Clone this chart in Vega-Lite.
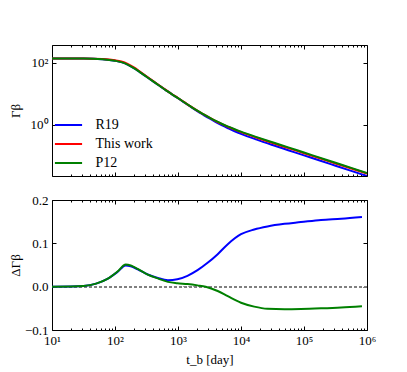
{
  "$schema": "https://vega.github.io/schema/vega-lite/v6.json",
  "padding": {"left": 8, "top": 44, "right": 5, "bottom": 5},
  "spacing": 16,
  "datasets": {
    "top": [
      {"t": 10, "s": "R19", "v": 139.6}, {"t": 31.62, "s": "R19", "v": 138.8}, {"t": 63.1, "s": "R19", "v": 131.8}, {"t": 100, "s": "R19", "v": 118.0}, {"t": 125.9, "s": "R19", "v": 106.5}, {"t": 158.5, "s": "R19", "v": 88.8}, {"t": 199.5, "s": "R19", "v": 68.4}, {"t": 251.2, "s": "R19", "v": 50.0}, {"t": 316.2, "s": "R19", "v": 36.07}, {"t": 398.1, "s": "R19", "v": 25.99}, {"t": 501.2, "s": "R19", "v": 18.69}, {"t": 631, "s": "R19", "v": 13.58}, {"t": 794.3, "s": "R19", "v": 9.85}, {"t": 1000, "s": "R19", "v": 7.28}, {"t": 1259, "s": "R19", "v": 5.31}, {"t": 1585, "s": "R19", "v": 3.865}, {"t": 1995, "s": "R19", "v": 2.841}, {"t": 2512, "s": "R19", "v": 2.134}, {"t": 3162, "s": "R19", "v": 1.617}, {"t": 3981, "s": "R19", "v": 1.239}, {"t": 5012, "s": "R19", "v": 0.969}, {"t": 6310, "s": "R19", "v": 0.777}, {"t": 7943, "s": "R19", "v": 0.629}, {"t": 10000, "s": "R19", "v": 0.518}, {"t": 17783, "s": "R19", "v": 0.337}, {"t": 31623, "s": "R19", "v": 0.226}, {"t": 56234, "s": "R19", "v": 0.1537}, {"t": 100000, "s": "R19", "v": 0.1046}, {"t": 177828, "s": "R19", "v": 0.0711}, {"t": 316228, "s": "R19", "v": 0.0485}, {"t": 562341, "s": "R19", "v": 0.0331}, {"t": 1000000, "s": "R19", "v": 0.0226},
      {"t": 10, "s": "This work", "v": 139.6}, {"t": 31.62, "s": "This work", "v": 139.0}, {"t": 63.1, "s": "This work", "v": 133.4}, {"t": 100, "s": "This work", "v": 121.6}, {"t": 125.9, "s": "This work", "v": 110.9}, {"t": 158.5, "s": "This work", "v": 93.3}, {"t": 199.5, "s": "This work", "v": 71.6}, {"t": 251.2, "s": "This work", "v": 51.9}, {"t": 316.2, "s": "This work", "v": 37.15}, {"t": 398.1, "s": "This work", "v": 26.6}, {"t": 501.2, "s": "This work", "v": 19.05}, {"t": 631, "s": "This work", "v": 13.8}, {"t": 794.3, "s": "This work", "v": 10.0}, {"t": 1000, "s": "This work", "v": 7.41}, {"t": 1259, "s": "This work", "v": 5.43}, {"t": 1585, "s": "This work", "v": 3.98}, {"t": 1995, "s": "This work", "v": 2.95}, {"t": 2512, "s": "This work", "v": 2.239}, {"t": 3162, "s": "This work", "v": 1.718}, {"t": 3981, "s": "This work", "v": 1.334}, {"t": 5012, "s": "This work", "v": 1.059}, {"t": 6310, "s": "This work", "v": 0.861}, {"t": 7943, "s": "This work", "v": 0.708}, {"t": 10000, "s": "This work", "v": 0.589}, {"t": 17783, "s": "This work", "v": 0.389}, {"t": 31623, "s": "This work", "v": 0.263}, {"t": 56234, "s": "This work", "v": 0.18}, {"t": 100000, "s": "This work", "v": 0.123}, {"t": 177828, "s": "This work", "v": 0.0841}, {"t": 316228, "s": "This work", "v": 0.0575}, {"t": 562341, "s": "This work", "v": 0.0394}, {"t": 1000000, "s": "This work", "v": 0.0269},
      {"t": 10, "s": "P12", "v": 139.6}, {"t": 31.62, "s": "P12", "v": 138.8}, {"t": 63.1, "s": "P12", "v": 131.8}, {"t": 100, "s": "P12", "v": 118.0}, {"t": 125.9, "s": "P12", "v": 106.5}, {"t": 158.5, "s": "P12", "v": 88.8}, {"t": 199.5, "s": "P12", "v": 68.4}, {"t": 251.2, "s": "P12", "v": 50.0}, {"t": 316.2, "s": "P12", "v": 36.07}, {"t": 398.1, "s": "P12", "v": 25.99}, {"t": 501.2, "s": "P12", "v": 18.71}, {"t": 631, "s": "P12", "v": 13.62}, {"t": 794.3, "s": "P12", "v": 9.9}, {"t": 1000, "s": "P12", "v": 7.35}, {"t": 1259, "s": "P12", "v": 5.39}, {"t": 1585, "s": "P12", "v": 3.96}, {"t": 1995, "s": "P12", "v": 2.941}, {"t": 2512, "s": "P12", "v": 2.237}, {"t": 3162, "s": "P12", "v": 1.723}, {"t": 3981, "s": "P12", "v": 1.346}, {"t": 5012, "s": "P12", "v": 1.076}, {"t": 6310, "s": "P12", "v": 0.882}, {"t": 7943, "s": "P12", "v": 0.73}, {"t": 10000, "s": "P12", "v": 0.611}, {"t": 17783, "s": "P12", "v": 0.407}, {"t": 31623, "s": "P12", "v": 0.2767}, {"t": 56234, "s": "P12", "v": 0.1894}, {"t": 100000, "s": "P12", "v": 0.1293}, {"t": 177828, "s": "P12", "v": 0.0883}, {"t": 316228, "s": "P12", "v": 0.0603}, {"t": 562341, "s": "P12", "v": 0.0412}, {"t": 1000000, "s": "P12", "v": 0.0281}
    ],
    "diff": [
      {"t": 10, "s": "R19", "d": 0}, {"t": 19.95, "s": "R19", "d": 0.0003}, {"t": 31.62, "s": "R19", "d": 0.0015}, {"t": 50.12, "s": "R19", "d": 0.007}, {"t": 75.86, "s": "R19", "d": 0.018}, {"t": 109.6, "s": "R19", "d": 0.034}, {"t": 147.9, "s": "R19", "d": 0.049}, {"t": 177.8, "s": "R19", "d": 0.047}, {"t": 229.1, "s": "R19", "d": 0.04}, {"t": 331.1, "s": "R19", "d": 0.028}, {"t": 478.6, "s": "R19", "d": 0.02}, {"t": 691.8, "s": "R19", "d": 0.015}, {"t": 977.2, "s": "R19", "d": 0.017}, {"t": 1413, "s": "R19", "d": 0.025}, {"t": 2042, "s": "R19", "d": 0.038}, {"t": 2951, "s": "R19", "d": 0.055}, {"t": 4266, "s": "R19", "d": 0.075}, {"t": 6166, "s": "R19", "d": 0.098}, {"t": 10000, "s": "R19", "d": 0.121}, {"t": 16218, "s": "R19", "d": 0.132}, {"t": 26303, "s": "R19", "d": 0.139}, {"t": 48978, "s": "R19", "d": 0.145}, {"t": 89125, "s": "R19", "d": 0.149}, {"t": 186209, "s": "R19", "d": 0.154}, {"t": 389045, "s": "R19", "d": 0.157}, {"t": 831764, "s": "R19", "d": 0.161},
      {"t": 10, "s": "P12", "d": 0}, {"t": 19.95, "s": "P12", "d": 0.0003}, {"t": 31.62, "s": "P12", "d": 0.0015}, {"t": 50.12, "s": "P12", "d": 0.007}, {"t": 75.86, "s": "P12", "d": 0.018}, {"t": 109.6, "s": "P12", "d": 0.035}, {"t": 147.9, "s": "P12", "d": 0.051}, {"t": 177.8, "s": "P12", "d": 0.049}, {"t": 229.1, "s": "P12", "d": 0.041}, {"t": 331.1, "s": "P12", "d": 0.028}, {"t": 478.6, "s": "P12", "d": 0.019}, {"t": 691.8, "s": "P12", "d": 0.011}, {"t": 977.2, "s": "P12", "d": 0.008}, {"t": 1413, "s": "P12", "d": 0.006}, {"t": 2042, "s": "P12", "d": 0.003}, {"t": 2754, "s": "P12", "d": 0.0}, {"t": 4266, "s": "P12", "d": -0.01}, {"t": 6166, "s": "P12", "d": -0.022}, {"t": 10000, "s": "P12", "d": -0.037}, {"t": 16218, "s": "P12", "d": -0.046}, {"t": 26303, "s": "P12", "d": -0.051}, {"t": 48978, "s": "P12", "d": -0.052}, {"t": 89125, "s": "P12", "d": -0.0515}, {"t": 186209, "s": "P12", "d": -0.05}, {"t": 389045, "s": "P12", "d": -0.048}, {"t": 831764, "s": "P12", "d": -0.045}
    ]
  },
  "config": {
    "view": {"stroke": "black", "strokeWidth": 1},
    "font": "Liberation Serif",
    "axis": {"labelFont": "Liberation Serif", "titleFont": "Liberation Serif", "labelFontSize": 13, "titleFontSize": 13, "titleFontWeight": "normal", "labelColor": "black", "titleColor": "black", "tickColor": "black", "domain": false, "grid": false, "labelOverlap": false, "labelFlush": false, "tickWidth": 1}
  },
  "resolve": {"legend": {"color": "independent"}},
  "vconcat": [
    {
      "width": 315, "height": 131,
      "data": {"name": "top"},
      "resolve": {"axis": {"x": "independent", "y": "independent"}},
      "layer": [
        {
          "mark": {"type": "line", "strokeWidth": 2, "interpolate": "monotone", "clip": true},
          "encoding": {
            "x": {"field": "t", "type": "quantitative", "scale": {"type": "log", "domain": [10, 1000000], "nice": false},
              "axis": {"orient": "bottom", "labels": false, "title": null, "values": [10,20,30,40,50,60,70,80,90,100,200,300,400,500,600,700,800,900,1000,2000,3000,4000,5000,6000,7000,8000,9000,10000,20000,30000,40000,50000,60000,70000,80000,90000,100000,200000,300000,400000,500000,600000,700000,800000,900000,1000000],
                "tickSize": {"condition": {"test": "abs(log(datum.value)/LN10 - round(log(datum.value)/LN10)) < 0.001", "value": -4}, "value": -2}}},
            "y": {"field": "v", "type": "quantitative", "scale": {"type": "log", "domain": [0.0226, 380], "nice": false},
              "axis": {"orient": "left", "values": [1, 100], "labelExpr": "datum.value > 10 ? '10²' : '10⁰'", "title": "Γβ", "tickSize": -4, "labelPadding": 8, "minExtent": 26, "maxExtent": 26, "titlePadding": 4}},
            "color": {"field": "s", "type": "nominal", "scale": {"domain": ["R19", "This work", "P12"], "range": ["#0000ff", "#ff0000", "#008000"]},
              "legend": {"title": null, "orient": "none", "legendX": 9.5, "legendY": 73, "symbolType": "M-3,0H3", "symbolSize": 82, "symbolStrokeWidth": 2, "labelFont": "Liberation Serif", "labelFontSize": 14, "labelColor": "black", "labelOffset": 20, "rowPadding": 5}}
          }
        },
        {
          "mark": {"type": "line", "opacity": 0},
          "encoding": {
            "x": {"field": "t", "type": "quantitative",
              "axis": {"orient": "top", "labels": false, "title": null, "values": [10,20,30,40,50,60,70,80,90,100,200,300,400,500,600,700,800,900,1000,2000,3000,4000,5000,6000,7000,8000,9000,10000,20000,30000,40000,50000,60000,70000,80000,90000,100000,200000,300000,400000,500000,600000,700000,800000,900000,1000000],
                "tickSize": {"condition": {"test": "abs(log(datum.value)/LN10 - round(log(datum.value)/LN10)) < 0.001", "value": -4}, "value": -2}}},
            "y": {"field": "v", "type": "quantitative", "axis": {"orient": "right", "labels": false, "title": null, "values": [1, 100], "tickSize": -4}}
          }
        }
      ]
    },
    {
      "width": 315, "height": 130,
      "data": {"name": "diff"},
      "resolve": {"axis": {"x": "independent", "y": "independent"}},
      "layer": [
        {
          "mark": {"type": "rule", "color": "#808080", "strokeWidth": 0.8, "strokeDash": [3, 2]},
          "encoding": {"y": {"datum": 0, "type": "quantitative", "axis": null}}
        },
        {
          "mark": {"type": "line", "strokeWidth": 2, "interpolate": "monotone", "clip": true},
          "encoding": {
            "x": {"field": "t", "type": "quantitative", "scale": {"type": "log", "domain": [10, 1000000], "nice": false},
              "axis": {"orient": "bottom", "title": "t_b [day]", "values": [10,20,30,40,50,60,70,80,90,100,200,300,400,500,600,700,800,900,1000,2000,3000,4000,5000,6000,7000,8000,9000,10000,20000,30000,40000,50000,60000,70000,80000,90000,100000,200000,300000,400000,500000,600000,700000,800000,900000,1000000],
                "labelExpr": "abs(log(datum.value)/LN10 - round(log(datum.value)/LN10)) < 0.001 ? '10' + ['⁰','¹','²','³','⁴','⁵','⁶'][round(log(datum.value)/LN10)] : ''",
                "labelPadding": 8, "titlePadding": 4,
                "tickSize": {"condition": {"test": "abs(log(datum.value)/LN10 - round(log(datum.value)/LN10)) < 0.001", "value": -4}, "value": -2}}},
            "y": {"field": "d", "type": "quantitative", "scale": {"domain": [-0.1, 0.2], "nice": false, "zero": false},
              "axis": {"orient": "left", "values": [-0.1, 0, 0.1, 0.2], "format": ".1f", "title": "ΔΓβ", "tickSize": -4, "labelPadding": 8, "minExtent": 26, "maxExtent": 26, "titlePadding": 4}},
            "color": {"field": "s", "type": "nominal", "scale": {"domain": ["R19", "P12"], "range": ["#0000ff", "#008000"]}, "legend": null}
          }
        },
        {
          "mark": {"type": "line", "opacity": 0},
          "encoding": {
            "x": {"field": "t", "type": "quantitative",
              "axis": {"orient": "top", "labels": false, "title": null, "values": [10,20,30,40,50,60,70,80,90,100,200,300,400,500,600,700,800,900,1000,2000,3000,4000,5000,6000,7000,8000,9000,10000,20000,30000,40000,50000,60000,70000,80000,90000,100000,200000,300000,400000,500000,600000,700000,800000,900000,1000000],
                "tickSize": {"condition": {"test": "abs(log(datum.value)/LN10 - round(log(datum.value)/LN10)) < 0.001", "value": -4}, "value": -2}}},
            "y": {"field": "d", "type": "quantitative", "axis": {"orient": "right", "labels": false, "title": null, "values": [-0.1, 0, 0.1, 0.2], "tickSize": -4}}
          }
        }
      ]
    }
  ]
}
